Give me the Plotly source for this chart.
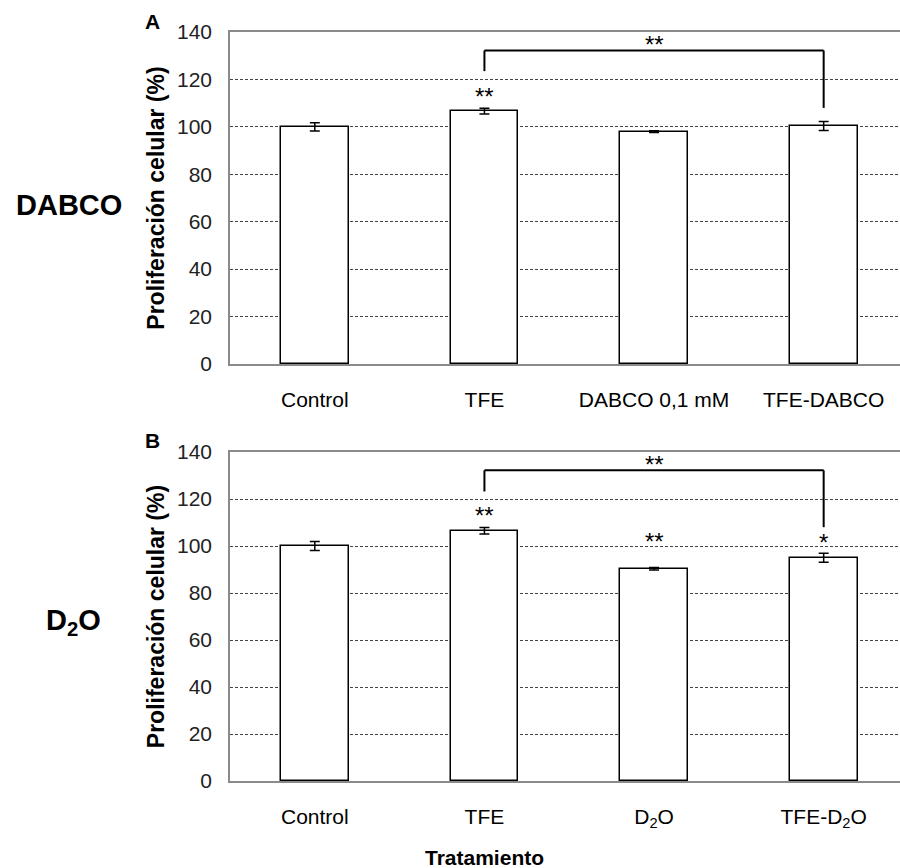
import plotly.graph_objects as go

cats_a = ["Control", "TFE", "DABCO 0,1 mM", "TFE-DABCO"]
vals_a = [100.0, 106.6, 98.0, 100.4]
err_a = [1.7, 1.2, 0.4, 1.9]

cats_b = ["Control", "TFE", "D<sub>2</sub>O", "TFE-D<sub>2</sub>O"]
vals_b = [100.0, 106.5, 90.3, 95.0]
err_b = [1.9, 1.4, 0.5, 1.9]

yticks = [0, 20, 40, 60, 80, 100, 120, 140]

# significance marks: (category index, y value, text)
stars_a = [(1, 113.0, "**")]
stars_b = [(1, 113.0, "**"), (2, 102.0, "**"), (3, 101.5, "*")]
# bracket: (x0, x1, y top, y left end, y right end, label y)
bracket_a = (1, 3, 132.2, 123.5, 108.0, 134.6)
bracket_b = (1, 3, 132.2, 123.2, 108.0, 134.6)

FONT = "Liberation Sans, Arial, sans-serif"
W, H = 900, 868

fig = go.Figure()

def add_panel(cats, vals, errs, xa, ya):
    fig.add_trace(go.Bar(
        x=list(range(len(cats))), y=vals, width=0.4,
        marker=dict(color="white", line=dict(color="black", width=1.5)),
        error_y=dict(type="data", array=errs, visible=True,
                     color="black", thickness=1.5, width=5),
        xaxis=xa, yaxis=ya, showlegend=False, hoverinfo="skip"))

add_panel(cats_a, vals_a, err_a, "x", "y")
add_panel(cats_b, vals_b, err_b, "x2", "y2")

def px_y(p):
    return 1 - p / H

xdom = [230 / W, 1.0]
axis_common = dict(range=[-0.5, 3.45], showline=True, linecolor="#8a8a8a",
                   linewidth=1.5, mirror=True, showgrid=False, ticks="",
                   tickfont=dict(family=FONT, size=21, color="black"),
                   tickmode="array", tickvals=list(range(4)),
                   ticklabelstandoff=16, zeroline=False, automargin=False)
yaxis_common = dict(range=[0, 140], tickvals=yticks, showline=True,
                    linecolor="#8a8a8a", linewidth=1.5, mirror=False,
                    showgrid=True, gridcolor="#444444", griddash="3px,2px",
                    gridwidth=1, zeroline=False, ticks="", automargin=False,
                    tickfont=dict(family=FONT, size=21, color="#222222"),
                    ticklabelstandoff=12,
                    title=dict(text="<b>Proliferación celular (%)</b>",
                               font=dict(family=FONT, size=23, color="black"),
                               standoff=6))

fig.update_layout(
    width=W, height=H, margin=dict(l=0, r=0, t=0, b=0, pad=0, autoexpand=False),
    plot_bgcolor="white", paper_bgcolor="white", bargap=0, showlegend=False,
    xaxis=dict(domain=xdom, anchor="y", ticktext=cats_a, **axis_common),
    yaxis=dict(domain=[px_y(364), px_y(32)], anchor="x", **yaxis_common),
    xaxis2=dict(domain=xdom, anchor="y2", ticktext=cats_b, **axis_common),
    yaxis2=dict(domain=[px_y(781), px_y(452)], anchor="x2", **yaxis_common),
)

shapes = []
annots = []

def add_marks(stars, bracket, xr, yr):
    for i, yv, t in stars:
        annots.append(dict(x=i, y=yv, xref=xr, yref=yr, text=t, showarrow=False,
                           font=dict(family=FONT, size=24, color="black"),
                           xanchor="center", yanchor="middle"))
    x0, x1, yt, yl, yrt, ylab = bracket
    path_pts = [(x0, yl), (x0, yt), (x1, yt), (x1, yrt)]
    for (a, b), (c, d) in zip(path_pts[:-1], path_pts[1:]):
        shapes.append(dict(type="line", x0=a, y0=b, x1=c, y1=d, xref=xr, yref=yr,
                           line=dict(color="black", width=2)))
    annots.append(dict(x=(x0 + x1) / 2, y=ylab, xref=xr, yref=yr, text="**",
                       showarrow=False, xanchor="center", yanchor="middle",
                       font=dict(family=FONT, size=24, color="black")))

add_marks(stars_a, bracket_a, "x", "y")
add_marks(stars_b, bracket_b, "x2", "y2")

def paper_text(xp, yp, text, size):
    return dict(x=xp / W, y=px_y(yp), xref="paper", yref="paper", text=text,
                showarrow=False, xanchor="center", yanchor="middle",
                font=dict(family=FONT, size=size, color="black"))

annots += [
    paper_text(152, 22, "<b>A</b>", 21),
    paper_text(152, 440, "<b>B</b>", 21),
    paper_text(69, 205, "<b>DABCO</b>", 29),
    paper_text(73, 622, "<b>D<sub>2</sub>O</b>", 29),
    paper_text(484, 857, "<b>Tratamiento</b>", 21),
]

fig.update_layout(shapes=shapes, annotations=annots)
fig.write_html("out.html", config={"displayModeBar": False},
               post_script="document.body.style.margin='0';document.body.style.overflow='hidden';")
